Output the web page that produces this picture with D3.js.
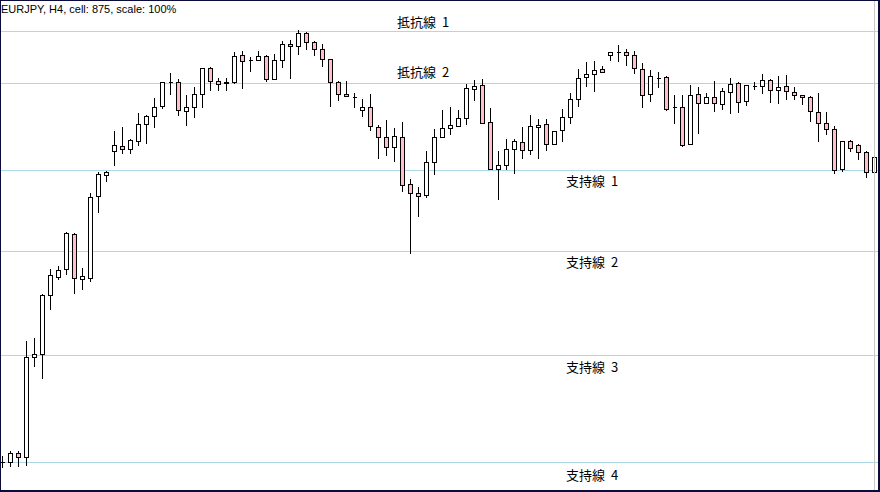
<!DOCTYPE html>
<html>
<head>
<meta charset="utf-8">
<script src="https://cdn.jsdelivr.net/npm/d3@7"></script>
<style>
  html, body { margin: 0; padding: 0; background: #ffffff; }
  svg { display: block; }
</style>
</head>
<body>
<svg id="chart" width="880" height="492"></svg>
<script>
// ---- data (EURJPY H4 candles) ----
const open = [
  155.38,155.38,155.47,155.43,156.43,156.46,157.05,157.23,157.31,157.66,
  157.21,157.22,158.04,158.25,158.49,158.54,158.51,158.59,158.76,158.84,
  158.94,159.18,159.18,158.89,158.93,159.06,159.32,159.19,159.17,159.18,
  159.45,159.40,159.40,159.44,159.21,159.40,159.56,159.54,159.67,159.58,
  159.51,159.41,159.18,159.06,159.03,158.90,158.93,158.73,158.63,158.53,
  158.63,158.16,158.07,158.05,158.38,158.63,158.72,158.74,158.82,159.11,
  159.15,158.78,158.31,158.35,158.51,158.58,158.50,158.73,158.76,158.56,
  158.70,158.83,159.01,159.23,159.26,159.31,159.45,159.48,159.48,159.45,
  159.31,159.06,159.22,159.23,158.93,158.93,158.56,159.06,158.97,159.03,
  158.96,159.08,159.17,158.99,159.14,159.14,159.20,159.10,159.14,159.08,
  159.05,159.03,158.88,158.77,158.71,158.31,158.59,158.55,158.48,158.28
];
const high = [
  155.44,155.49,155.49,156.59,156.62,157.06,157.31,157.34,157.68,157.67,
  157.32,158.07,158.28,158.29,158.69,158.73,158.61,158.87,158.85,159.02,
  159.18,159.27,159.21,159.05,159.13,159.32,159.33,159.22,159.22,159.48,
  159.49,159.43,159.49,159.45,159.46,159.59,159.60,159.70,159.68,159.59,
  159.56,159.41,159.19,159.19,159.07,159.01,159.06,158.75,158.80,158.72,
  158.78,158.21,158.13,158.49,158.71,158.90,158.93,158.90,159.16,159.20,
  159.21,158.92,158.49,158.61,158.61,158.73,158.85,158.81,158.81,158.69,
  158.91,159.07,159.31,159.38,159.39,159.34,159.48,159.55,159.51,159.49,
  159.37,159.30,159.28,159.24,159.05,159.05,159.15,159.13,159.07,159.19,
  159.12,159.22,159.18,159.15,159.18,159.26,159.21,159.24,159.25,159.13,
  159.05,159.04,159.07,158.88,158.74,158.59,158.60,158.56,158.49,158.43
];
const low = [
  155.33,155.34,155.34,155.35,156.34,156.22,156.91,157.21,157.26,157.07,
  157.11,157.19,157.88,158.19,158.35,158.47,158.47,158.55,158.57,158.73,
  158.92,159.06,158.85,158.75,158.83,158.93,159.10,159.10,159.10,159.17,
  159.12,159.29,159.40,159.19,159.21,159.33,159.22,159.46,159.51,159.45,
  159.34,158.94,159.00,159.04,158.93,158.84,158.70,158.42,158.45,158.39,
  158.09,157.47,157.84,158.03,158.26,158.63,158.66,158.74,158.76,159.00,
  158.77,158.31,158.01,158.31,158.27,158.42,158.46,158.42,158.50,158.56,
  158.59,158.77,158.94,159.14,159.09,159.28,159.40,159.39,159.35,159.27,
  158.93,158.99,159.13,158.90,158.77,158.54,158.56,158.67,158.97,158.89,
  158.91,158.87,158.88,158.95,159.11,159.07,158.98,158.97,159.01,159.01,
  158.96,158.79,158.59,158.66,158.27,158.29,158.49,158.41,158.23,158.28
];
const close = [
  155.38,155.47,155.43,156.43,156.46,157.05,157.25,157.30,157.67,157.22,
  157.24,158.03,158.26,158.28,158.55,158.51,158.60,158.76,158.84,158.93,
  159.18,159.18,158.90,158.93,159.06,159.32,159.19,159.16,159.18,159.44,
  159.39,159.40,159.44,159.21,159.40,159.56,159.54,159.67,159.58,159.51,
  159.41,159.18,159.06,159.04,159.03,158.93,158.74,158.63,158.53,158.64,
  158.15,158.07,158.04,158.38,158.63,158.72,158.75,158.82,159.12,159.14,
  158.77,158.31,158.35,158.51,158.59,158.50,158.74,158.75,158.56,158.69,
  158.83,159.01,159.22,159.26,159.30,159.28,159.48,159.48,159.45,159.32,
  159.05,159.24,159.22,158.91,158.93,158.55,159.05,158.97,159.03,158.97,
  159.09,159.16,158.98,159.15,159.14,159.20,159.10,159.13,159.09,159.05,
  159.03,158.89,158.77,158.71,158.30,158.59,158.52,158.48,158.28,158.43
];
const levelPrices = [159.69, 159.17, 158.30, 157.49, 156.45, 155.38];
const levelNames  = ["抵抗線 1", "抵抗線 2", "支持線 1", "支持線 2", "支持線 3", "支持線 4"];
const titleText = "EURJPY, H4, cell: 875, scale: 100%";

// ---- layout / style ----
const W = 880, H = 492;
const svg = d3.select("#chart");

const x = d3.scaleLinear().domain([0, open.length - 1]).range([2, 874]);
const y = d3.scaleLinear().domain([160, 155.08]).range([0, 492]);

// frame
svg.append("rect").attr("x", 0).attr("y", 0).attr("width", W).attr("height", H).attr("fill", "#0b0b3b");
svg.append("rect").attr("x", 1).attr("y", 1).attr("width", 877).attr("height", 489).attr("fill", "#ffffff");

// horizontal level lines
const lvl = svg.append("g").attr("shape-rendering", "crispEdges");
lvl.selectAll("line").data(levelPrices).join("line")
  .attr("x1", 1).attr("x2", 878)
  .attr("y1", d => Math.round(y(d)) + 0.5)
  .attr("y2", d => Math.round(y(d)) + 0.5)
  .attr("stroke", "#add8e6").attr("stroke-width", 1);

// level labels
const labelOffsets = [-4.5, -6.5, 16, 16, 16.5, 17.5];
svg.append("g").selectAll("text").data(levelPrices).join("text")
  .attr("x", (d, i) => i < 2 ? 397 : 566)
  .attr("y", (d, i) => Math.round(y(d)) + labelOffsets[i])
  .attr("font-family", "'Noto Sans CJK JP', sans-serif")
  .attr("font-size", 13)
  .attr("word-spacing", 3)
  .attr("fill", "#000")
  .text((d, i) => levelNames[i]);

// candles
const idx = d3.range(open.length);
const cg = svg.append("g").attr("shape-rendering", "crispEdges");
const candle = cg.selectAll("g").data(idx).join("g");

candle.append("line")
  .attr("x1", i => Math.round(x(i)) + 0.5)
  .attr("x2", i => Math.round(x(i)) + 0.5)
  .attr("y1", i => Math.round(y(high[i])))
  .attr("y2", i => Math.round(y(low[i])) + 1)
  .attr("stroke", "#000").attr("stroke-width", 1);

candle.append("path")
  .attr("d", i => {
    const cx = Math.round(x(i)) + 0.5;
    const t = Math.round(y(Math.max(open[i], close[i]))) + 0.5;
    const b = Math.round(y(Math.min(open[i], close[i]))) + 0.5;
    return `M${cx - 2},${t}H${cx + 2}V${b}H${cx - 2}Z`;
  })
  .attr("fill", i => close[i] < open[i] ? "#ffc0cb" : "#ffffff")
  .attr("stroke", "#000").attr("stroke-width", 1);

// current bar marker line
svg.append("line")
  .attr("x1", Math.round(x(open.length - 1)) + 0.5)
  .attr("x2", Math.round(x(open.length - 1)) + 0.5)
  .attr("y1", 1).attr("y2", 490)
  .attr("stroke", "#c8c8c8").attr("stroke-width", 1)
  .attr("shape-rendering", "crispEdges");

// title
svg.append("text")
  .attr("x", 1).attr("y", 13)
  .attr("font-family", "'Liberation Sans', Arial, sans-serif")
  .attr("font-size", 11)
  .attr("fill", "#000")
  .text(titleText);
</script>
</body>
</html>
